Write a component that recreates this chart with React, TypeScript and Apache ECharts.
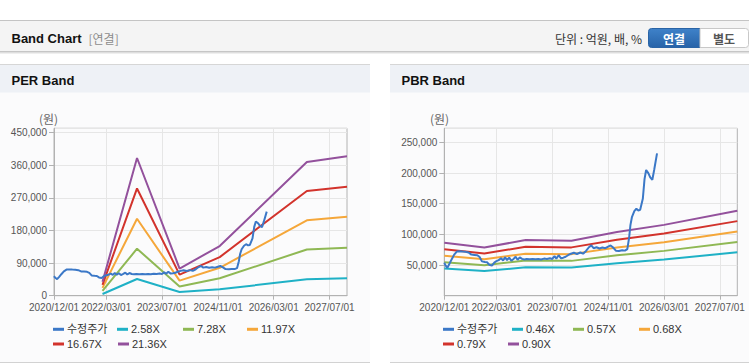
import React, { useEffect, useRef } from "react";
import * as echarts from "echarts";

// ---------- data ----------
const xMinDate = "2020/12/01";
const xMaxDate = "2027/11/30";
const xLabelDates = ["2020/12/01", "2022/03/01", "2023/07/01", "2024/11/01", "2026/03/01", "2027/07/01"];

const priceName = "수정주가";
const priceDates = [
  "2020/12/01", "2020/12/10", "2020/12/28", "2021/01/15", "2021/02/05", "2021/02/25", "2021/03/20", "2021/04/15",
  "2021/05/10", "2021/06/05", "2021/07/01", "2021/07/25", "2021/08/20", "2021/09/15", "2021/10/05", "2021/10/25",
  "2021/11/20", "2021/12/10", "2021/12/28", "2022/01/20", "2022/02/10", "2022/03/01", "2022/03/20", "2022/04/10",
  "2022/04/28", "2022/05/15", "2022/06/01", "2022/06/20", "2022/07/08", "2022/07/28", "2022/08/15", "2022/09/01",
  "2022/09/20", "2022/10/10", "2022/10/30", "2022/11/20", "2022/12/15", "2023/01/10", "2023/02/05", "2023/03/01",
  "2023/03/25", "2023/04/20", "2023/05/15", "2023/06/10", "2023/07/01", "2023/07/20", "2023/08/05", "2023/08/25",
  "2023/09/15", "2023/10/05", "2023/10/25", "2023/11/15", "2023/12/10", "2024/01/05", "2024/02/01", "2024/03/01",
  "2024/03/25", "2024/04/20", "2024/05/15", "2024/06/05", "2024/06/25", "2024/07/20", "2024/08/15", "2024/09/10",
  "2024/10/05", "2024/10/30", "2024/11/20", "2024/12/10", "2025/01/05", "2025/02/01", "2025/03/01", "2025/03/25",
  "2025/04/15", "2025/05/01", "2025/05/12", "2025/05/25", "2025/06/15", "2025/07/03", "2025/07/20", "2025/08/05",
  "2025/08/28", "2025/09/12", "2025/09/26", "2025/10/15", "2025/11/01", "2025/11/19", "2025/12/05", "2025/12/30",
];
const priceValues = [
  54000, 50000, 45500, 52000, 60000, 67000, 72000, 72500,
  72000, 71500, 70500, 67000, 66500, 66000, 63000, 56000,
  55000, 54500, 50500, 49000, 54000, 56500, 58000, 61000,
  57500, 62500, 58000, 62000, 57000, 60000, 63500, 58500,
  62500, 60000, 59000, 60000, 59500, 60000, 59500, 60000,
  59000, 60500, 60000, 61000, 60000, 64500, 60500, 66000,
  61000, 62000, 63500, 66000, 68500, 70000, 68000, 70500,
  68500, 73000, 79000, 82000, 77500, 79000, 77000, 78500,
  77500, 80000, 82000, 79000, 73500, 73000, 74000, 73500,
  76000, 95000, 115000, 128000, 138000, 142000, 139000, 140000,
  158000, 190000, 205000, 200000, 193000, 189000, 205000, 232000,
];

const perBandDates = ["2022/01/28", "2022/11/25", "2023/12/01", "2024/11/15", "2026/12/15", "2027/11/30"];
const perBandNames = ["2.58X", "7.28X", "11.97X", "16.67X", "21.36X"];
const per258 = [4600, 46000, 10000, 17500, 45500, 48500];
const per728 = [13000, 129600, 25500, 48000, 127500, 132500];
const per1197 = [21500, 212500, 41500, 77000, 208000, 218000];
const per1667 = [30000, 296000, 58300, 106500, 289000, 300500];
const per2136 = [38500, 380000, 75000, 137000, 369000, 385000];

const pbrBandDates = ["2020/12/01", "2021/11/15", "2022/11/10", "2023/12/15", "2025/01/15", "2026/03/01", "2027/11/30"];
const pbrBandNames = ["0.46X", "0.57X", "0.68X", "0.79X", "0.90X"];
const pbr046 = [44200, 40100, 46400, 45900, 53100, 59000, 70800];
const pbr057 = [54700, 49700, 57500, 56800, 65800, 73100, 87700];
const pbr068 = [65300, 59300, 68600, 67800, 78500, 87200, 104700];
const pbr079 = [75800, 68900, 79700, 78800, 91200, 101400, 121600];
const pbr090 = [86400, 78500, 90800, 89700, 104000, 115500, 138500];

const perYMax = 462000;
const perYInterval = 90000;
const pbrYMax = 273000;
const pbrYInterval = 50000;

const priceColor = "#3b78c7";
const bandColors = ["#1fb1c6", "#8fb854", "#f5a73a", "#d2332c", "#93519c"];

// ---------- helpers ----------
const ts = (s: string) => {
  const [y, m, d] = s.split("/").map(Number);
  return new Date(y, m - 1, d).getTime();
};
const pad = (n: number) => String(n).padStart(2, "0");
const fmtDate = (v: number) => {
  const d = new Date(v);
  return `${d.getFullYear()}/${pad(d.getMonth() + 1)}/${pad(d.getDate())}`;
};
const pairs = (dates: string[], vals: number[]) => dates.map((d, i) => [ts(d), vals[i]]);

const SANS = '"Liberation Sans", "Noto Sans CJK KR", sans-serif';
const KR = '"Noto Sans CJK KR", "Liberation Sans", sans-serif';
const AXIS_COLOR = "#b2b2b2";
const GRID_COLOR = "#e6e6e6";

export default function App() {
  const ref = useRef<HTMLDivElement>(null);

  useEffect(() => {
    document.body.style.margin = "0";
    if (!ref.current) return;
    const chart = echarts.init(ref.current, undefined, { renderer: "svg" });

    const xTicks = xLabelDates.map(ts);
    const mkX = (gridIndex: number) => ({
      type: "value",
      gridIndex,
      min: ts(xMinDate),
      max: ts(xMaxDate),
      axisLine: { show: true, onZero: false, lineStyle: { color: AXIS_COLOR, width: 1 } },
      axisTick: { show: true, customValues: xTicks, length: 4, lineStyle: { color: AXIS_COLOR } },
      axisLabel: {
        customValues: xTicks,
        showMinLabel: true,
        showMaxLabel: true,
        hideOverlap: false,
        formatter: (v: number) => fmtDate(v),
        color: "#555",
        fontSize: 10,
        fontFamily: SANS,
        margin: 7,
      },
      splitLine: { show: true, customValues: xTicks, lineStyle: { color: GRID_COLOR, width: 1 } },
    });
    const mkY = (gridIndex: number, max: number, interval: number, showMin: boolean) => ({
      type: "value",
      gridIndex,
      min: 0,
      max,
      interval,
      axisLine: { show: true, lineStyle: { color: AXIS_COLOR, width: 1 } },
      axisTick: { show: true, length: 5, lineStyle: { color: AXIS_COLOR } },
      axisLabel: {
        showMaxLabel: false,
        showMinLabel: showMin,
        formatter: (v: number) => (v % interval === 0 ? v.toLocaleString("en-US") : ""),
        color: "#555",
        fontSize: 10,
        fontFamily: SANS,
        margin: 7,
      },
      splitLine: { show: true, lineStyle: { color: GRID_COLOR, width: 1 } },
    });

    const lineSeries = (name: string, data: number[][], color: string, idx: number, z = 2) => ({
      type: "line",
      name,
      xAxisIndex: idx,
      yAxisIndex: idx,
      data,
      showSymbol: false,
      symbol: "none",
      color,
      lineStyle: { color, width: 2 },
      z,
    });

    const perBands = [per258, per728, per1197, per1667, per2136];
    const pbrBands = [pbr046, pbr057, pbr068, pbr079, pbr090];
    const series: any[] = [];
    perBands.forEach((vals, i) => series.push(lineSeries(perBandNames[i], pairs(perBandDates, vals), bandColors[i], 0)));
    series.push(lineSeries(priceName, pairs(priceDates, priceValues), priceColor, 0, 3));
    pbrBands.forEach((vals, i) => series.push(lineSeries(pbrBandNames[i], pairs(pbrBandDates, vals), bandColors[i], 1)));
    series.push(lineSeries(priceName, pairs(priceDates, priceValues), priceColor, 1, 3));

    const legendItems: [string, number, number][] = [
      [priceName, 53, 329.3], [perBandNames[0], 117, 329.3], [perBandNames[1], 183, 329.3], [perBandNames[2], 247, 329.3],
      [perBandNames[3], 53, 344], [perBandNames[4], 118, 344],
      [priceName, 443, 329.3], [pbrBandNames[0], 512, 329.3], [pbrBandNames[1], 573, 329.3], [pbrBandNames[2], 639, 329.3],
      [pbrBandNames[3], 443, 344], [pbrBandNames[4], 508, 344],
    ];
    const legends = legendItems.map(([name, left, cy]) => ({
      data: [name],
      left,
      top: cy - 7,
      padding: 0,
      icon: "rect",
      itemWidth: 11,
      itemHeight: 3,
      selectedMode: false,
      textStyle: { fontSize: 11, color: "#333", fontFamily: SANS, lineHeight: 14, padding: [0, 0, 0, -2] },
    }));

    const txt = (text: string, x: number, y: number, font: string, fill: string, align = "left") => ({
      type: "text",
      x,
      y,
      silent: true,
      style: { text, font, fill, align, verticalAlign: "middle" },
    });
    const line = (x1: number, y1: number, x2: number, y2: number, stroke: string) => ({
      type: "line",
      silent: true,
      shape: { x1, y1, x2, y2 },
      style: { stroke, lineWidth: 1 },
    });
    const rect = (x: number, y: number, width: number, height: number, fill: string) => ({
      type: "rect",
      silent: true,
      shape: { x, y, width, height },
      style: { fill },
    });

    const panel = (x: number, w: number, title: string, unitX: number) => [
      rect(x, 65, w, 298, "#fbfbfc"),
      rect(x, 65, w, 27.5, "#eef1f6"),
      line(x, 64.5, x + w, 64.5, "#d6d6d6"),
      line(x, 362.5, x + w, 362.5, "#d2d2d2"),
      txt(title, x + 11.5, 80.5, 'bold 13px "Liberation Sans", sans-serif', "#111"),
      txt("(원)", unitX, 118, `12px ${KR}`, "#666"),
    ];

    const graphic: any[] = [
      rect(0, 21, 749, 30.5, "#f4f4f4"),
      line(0, 20.5, 749, 20.5, "#c4c4c4"),
      line(0, 51.5, 749, 51.5, "#c6c6c6"),
      line(0, 52.5, 749, 52.5, "#dedede"),
      line(0, 53.5, 749, 53.5, "#efefef"),
      txt("Band Chart", 11.5, 38, 'bold 13px "Liberation Sans", sans-serif', "#111"),
      txt("[연결]", 88.5, 38, `12px ${KR}`, "#8c8c8c"),
      txt("단위 : 억원, 배, %", 642, 38, `12px ${KR}`, "#333", "right"),
      {
        type: "rect",
        silent: true,
        shape: { x: 648.5, y: 28.5, width: 51.5, height: 19, r: [3, 0, 0, 3] },
        style: {
          fill: new echarts.graphic.LinearGradient(0, 0, 0, 1, [
            { offset: 0, color: "#3f82c9" },
            { offset: 1, color: "#2763a8" },
          ]),
          stroke: "#2a64a6",
          lineWidth: 1,
        },
      },
      {
        type: "rect",
        silent: true,
        shape: { x: 700, y: 28.5, width: 48.5, height: 19, r: [0, 3, 3, 0] },
        style: { fill: "#ffffff", stroke: "#c8c8c8", lineWidth: 1 },
      },
      txt("연결", 674, 38, `bold 12px ${KR}`, "#ffffff", "center"),
      txt("별도", 724, 38, `bold 12px ${KR}`, "#555555", "center"),
      ...panel(0, 370, "PER Band", 39),
      ...panel(390, 359, "PBR Band", 430),
    ];

    chart.setOption({
      animation: false,
      backgroundColor: "#ffffff",
      graphic: graphic.map((g: any) => ({ ...g, z: -10 })),
      grid: [
        { left: 54, top: 128.3, width: 293, height: 167.4, show: true, borderColor: AXIS_COLOR, borderWidth: 1, backgroundColor: "transparent" },
        { left: 444.3, top: 128.3, width: 293, height: 167.4, show: true, borderColor: AXIS_COLOR, borderWidth: 1, backgroundColor: "transparent" },
      ],
      xAxis: [mkX(0), mkX(1)],
      yAxis: [mkY(0, perYMax, perYInterval, true), mkY(1, pbrYMax, pbrYInterval, false)],
      legend: legends,
      series,
    });

    return () => chart.dispose();
  }, []);

  return <div ref={ref} style={{ width: 749, height: 364 }} />;
}
